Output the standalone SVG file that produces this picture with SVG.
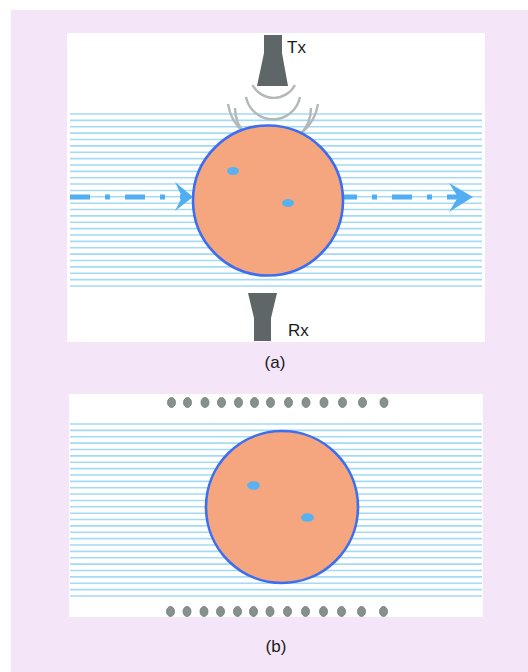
<svg xmlns="http://www.w3.org/2000/svg" width="528" height="672" viewBox="0 0 528 672">
<style>
.hl{stroke:#a4daf6;stroke-width:1.6;fill:none}
.body{fill:#f5a67e;stroke:#3b6ef0;stroke-width:2.6}
.cell{fill:#58b2f2}
.probe{fill:#5f6667}
.wave{fill:none;stroke:#b3b8b8;stroke-width:2.4}
.dash{stroke:#52aef2;stroke-width:5;fill:none;stroke-dasharray:20 15 5 15}
.head{fill:#52aef2}
.el{fill:#86908f;stroke:#6f7a78;stroke-width:0.8}
.lbl{font-family:"Liberation Sans",Arial,sans-serif;font-size:17px;fill:#1a1a1a}
</style>
<defs>
<g id="lines">
<path class="hl" d="M0,0H412M0,6.37H412M0,12.74H412M0,19.11H412M0,25.48H412M0,31.85H412M0,38.22H412M0,44.59H412M0,50.96H412M0,57.33H412M0,63.7H412M0,70.07H412M0,76.44H412M0,82.81H412M0,89.18H412M0,95.55H412M0,101.92H412M0,108.29H412M0,114.66H412M0,121.03H412M0,127.4H412M0,133.77H412M0,140.14H412M0,146.51H412M0,152.88H412M0,159.25H412M0,165.62H412M0,172H412"/>
</g>
</defs>
<rect x="11" y="10" width="517" height="662" fill="#f4e6f8"/>

<g id="panel-a">
<rect x="67" y="33" width="418" height="309" fill="#ffffff"/>
<use href="#lines" x="70" y="114"/>
</g>

<g id="waves">
<path class="wave" d="M252.5,85 A24,24 0 0 0 295,85"/>
<path class="wave" d="M246,97 A27.5,27.5 0 0 0 300,97"/>
<path class="wave" d="M235,108 A38,38 0 0 0 311,108"/>
<path class="wave" d="M228,104 A45.5,45.5 0 0 0 318,104"/>
</g>

<g id="connectors">
<line class="dash" x1="70" y1="197" x2="182" y2="197"/>
<path class="head" d="M175,182 L193,197 L175,211 L182,197 Z"/>
<line class="dash" x1="337" y1="197" x2="460" y2="197"/>
<path class="head" d="M449,183 L473,197 L449,212 L458,197 Z"/>
</g>

<g id="body-a">
<circle class="body" cx="268" cy="200.5" r="75"/>
<ellipse class="cell" cx="233" cy="171" rx="6" ry="4"/>
<ellipse class="cell" cx="288" cy="203" rx="6" ry="4"/>
</g>

<g id="tx">
<path class="probe" d="M264,35 H282 V53 L288,86 H257 L264,53 Z"/>
<text class="lbl" x="287" y="53">Tx</text>
</g>

<g id="rx">
<path class="probe" d="M248,293 H277 L271,318 V341 H254 V318 Z"/>
<text class="lbl" x="288" y="336">Rx</text>
</g>

<text class="lbl" x="275" y="368" text-anchor="middle">(a)</text>

<g id="panel-b">
<rect x="69" y="394" width="414" height="223" fill="#ffffff"/>
<use href="#lines" x="70" y="424" transform="translate(0,0)"/>
</g>

<g id="body-b">
<circle class="body" cx="282" cy="507" r="76"/>
<ellipse class="cell" cx="253.5" cy="485.5" rx="6.5" ry="4.3"/>
<ellipse class="cell" cx="307.5" cy="517.5" rx="6.5" ry="4.3"/>
</g>

<g id="electrodes-top">
<ellipse class="el" cx="171.5" cy="402.5" rx="4" ry="5"/>
<ellipse class="el" cx="187.5" cy="402.5" rx="4" ry="5"/>
<ellipse class="el" cx="205" cy="402.5" rx="4" ry="5"/>
<ellipse class="el" cx="221.5" cy="402.5" rx="4" ry="5"/>
<ellipse class="el" cx="238.5" cy="402.5" rx="4" ry="5"/>
<ellipse class="el" cx="254.5" cy="402.5" rx="4" ry="5"/>
<ellipse class="el" cx="270.5" cy="402.5" rx="4" ry="5"/>
<ellipse class="el" cx="288.5" cy="402.5" rx="4" ry="5"/>
<ellipse class="el" cx="306" cy="402.5" rx="4" ry="5"/>
<ellipse class="el" cx="324" cy="402.5" rx="4" ry="5"/>
<ellipse class="el" cx="342.5" cy="402.5" rx="4" ry="5"/>
<ellipse class="el" cx="362.5" cy="402.5" rx="4" ry="5"/>
<ellipse class="el" cx="384" cy="402.5" rx="4" ry="5"/>
</g>

<g id="electrodes-bottom">
<ellipse class="el" cx="170.5" cy="611.5" rx="4" ry="5"/>
<ellipse class="el" cx="187" cy="611.5" rx="4" ry="5"/>
<ellipse class="el" cx="204" cy="611.5" rx="4" ry="5"/>
<ellipse class="el" cx="220.5" cy="611.5" rx="4" ry="5"/>
<ellipse class="el" cx="237.5" cy="611.5" rx="4" ry="5"/>
<ellipse class="el" cx="253.5" cy="611.5" rx="4" ry="5"/>
<ellipse class="el" cx="270" cy="611.5" rx="4" ry="5"/>
<ellipse class="el" cx="287.5" cy="611.5" rx="4" ry="5"/>
<ellipse class="el" cx="305.5" cy="611.5" rx="4" ry="5"/>
<ellipse class="el" cx="323.5" cy="611.5" rx="4" ry="5"/>
<ellipse class="el" cx="341.5" cy="611.5" rx="4" ry="5"/>
<ellipse class="el" cx="361.5" cy="611.5" rx="4" ry="5"/>
<ellipse class="el" cx="383.5" cy="611.5" rx="4" ry="5"/>
</g>

<text class="lbl" x="276" y="652" text-anchor="middle">(b)</text>
</svg>
